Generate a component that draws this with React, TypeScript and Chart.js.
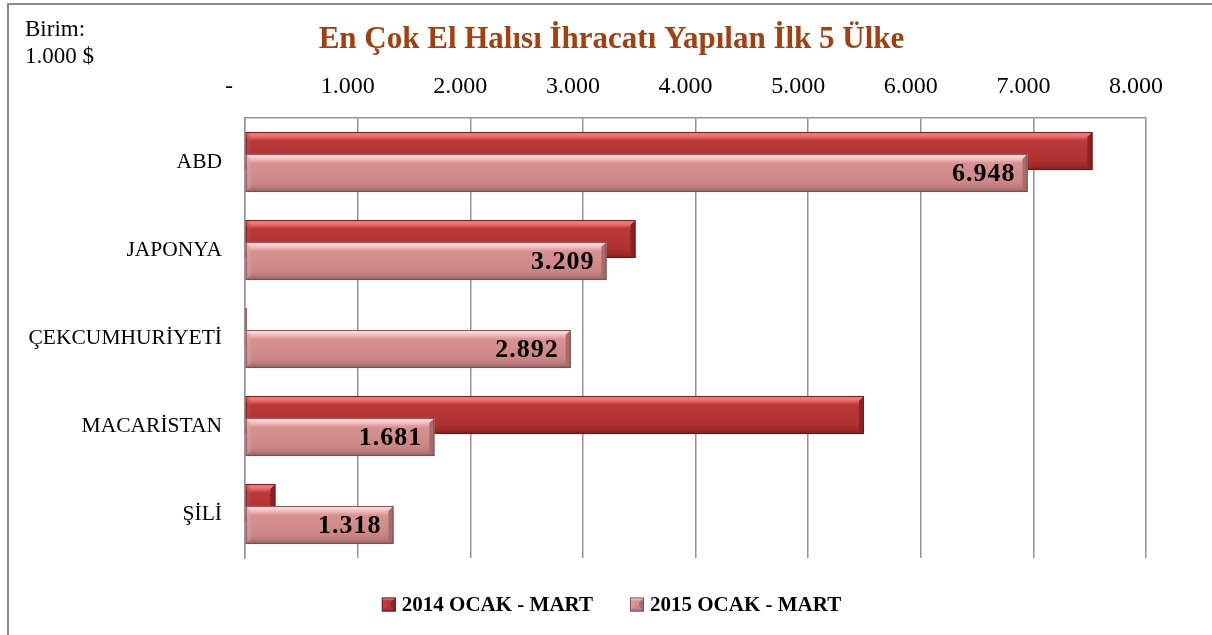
import React, { useEffect, useRef } from 'react';
import { Chart, registerables } from 'chart.js';

Chart.register(...registerables);

// ---- data ----
const categories = ['ABD', 'JAPONYA', 'ÇEKCUMHURİYETİ', 'MACARİSTAN', 'ŞİLİ'];
const seriesLabels = ['2014 OCAK - MART', '2015 OCAK - MART'];
const values2014 = [7524, 3466, 9, 5496, 269];
const values2015 = [6948, 3209, 2892, 1681, 1318];
const axisMin = 0;
const axisMax = 8000;
const axisStep = 1000;
const titleText = 'En Çok El Halısı İhracatı Yapılan İlk 5 Ülke';
const unitLines = ['Birim:', '1.000 $'];

const SERIF = '"Liberation Serif", "Times New Roman", serif';

function fmt(v: number): string {
  const s = Math.round(v).toString();
  return s.replace(/\B(?=(\d{3})+(?!\d))/g, '.');
}

type Palette = {
  base: string;
  stops: [number, string][];
  bevelRight: string;
  bevelLeft: string;
  edge: string;
};

const palettes: Palette[] = [
  {
    base: '#B23434',
    stops: [
      [0, '#C84545'],
      [0.05, '#F47E7E'],
      [0.13, '#E96767'],
      [0.22, '#BA3A3A'],
      [0.75, '#B03131'],
      [0.92, '#9A2828'],
      [1, '#6E1A1A'],
    ],
    bevelRight: '#8A2222',
    bevelLeft: '#C44A4A',
    edge: 'rgba(110,25,25,0.85)',
  },
  {
    base: '#D08A8A',
    stops: [
      [0, '#E5A5A5'],
      [0.05, '#FFDADA'],
      [0.14, '#F3B8B8'],
      [0.25, '#D89292'],
      [0.75, '#CD8686'],
      [0.92, '#B57474'],
      [1, '#7C5353'],
    ],
    bevelRight: '#A66C6C',
    bevelLeft: '#E2A2A2',
    edge: 'rgba(120,80,80,0.9)',
  },
];

function drawBar(ctx: CanvasRenderingContext2D, left: number, right: number, top: number, bottom: number, pal: Palette) {
  const w = right - left;
  const h = bottom - top;
  if (w <= 0 || h <= 0) return;
  const g = ctx.createLinearGradient(0, top, 0, bottom);
  pal.stops.forEach(([o, c]) => g.addColorStop(o, c));
  ctx.fillStyle = g;
  ctx.fillRect(left, top, w, h);
  const b = Math.min(5, w / 2);
  // right bevel
  ctx.fillStyle = pal.bevelRight;
  ctx.beginPath();
  ctx.moveTo(right - b, top + b);
  ctx.lineTo(right, top);
  ctx.lineTo(right, bottom);
  ctx.lineTo(right - b, bottom - b);
  ctx.closePath();
  ctx.fill();
  // left bevel
  ctx.fillStyle = pal.bevelLeft;
  ctx.globalAlpha = 0.5;
  ctx.beginPath();
  ctx.moveTo(left, top);
  ctx.lineTo(left + b, top + b);
  ctx.lineTo(left + b, bottom - b);
  ctx.lineTo(left, bottom);
  ctx.closePath();
  ctx.fill();
  ctx.globalAlpha = 1;
  // outline
  ctx.strokeStyle = pal.edge;
  ctx.lineWidth = 1;
  ctx.strokeRect(left + 0.5, top + 0.5, Math.max(w - 1, 0.5), h - 1);
}

const decorPlugin = {
  id: 'decor',
  beforeDraw(chart: any) {
    const { ctx, width, height } = chart;
    ctx.save();
    ctx.fillStyle = '#ffffff';
    ctx.fillRect(0, 0, width, height);
    ctx.strokeStyle = '#8c8c8c';
    ctx.lineWidth = 2;
    ctx.strokeRect(8, 4, width + 20, height + 20);
    ctx.restore();
  },
  afterDatasetsDraw(chart: any) {
    const { ctx } = chart;
    ctx.save();
    for (let d = 0; d < chart.data.datasets.length; d++) {
      const meta = chart.getDatasetMeta(d);
      meta.data.forEach((el: any) => {
        const p = el.getProps(['x', 'y', 'base', 'height'], true);
        const left = Math.min(p.base, p.x);
        const right = Math.max(p.base, p.x);
        const top = p.y - p.height / 2;
        const bottom = p.y + p.height / 2;
        if (right - left < 2) {
          ctx.fillStyle = palettes[d].bevelRight;
          ctx.fillRect(left, top, Math.max(right - left, 1), bottom - top);
        } else {
          drawBar(ctx, left, right, top, bottom, palettes[d]);
        }
      });
    }
    // data labels for 2015 series
    const meta2 = chart.getDatasetMeta(1);
    ctx.font = `bold 26px ${SERIF}`;
    (ctx as any).letterSpacing = '1px';
    ctx.fillStyle = '#000000';
    ctx.textAlign = 'right';
    ctx.textBaseline = 'middle';
    meta2.data.forEach((el: any, i: number) => {
      const p = el.getProps(['x', 'y'], true);
      ctx.fillText(fmt(values2015[i]), p.x - 12, p.y + 1);
    });
    (ctx as any).letterSpacing = '0px';
    ctx.restore();
  },
  afterDraw(chart: any) {
    const { ctx } = chart;
    ctx.save();
    // title
    ctx.font = `bold 31px ${SERIF}`;
    ctx.fillStyle = '#A3400F';
    ctx.textAlign = 'center';
    ctx.textBaseline = 'middle';
    ctx.fillText(titleText, 611.5, 40);
    // unit text
    ctx.font = `23px ${SERIF}`;
    ctx.fillStyle = '#000000';
    ctx.textAlign = 'left';
    ctx.textBaseline = 'alphabetic';
    ctx.fillText(unitLines[0], 25, 36);
    ctx.fillText(unitLines[1], 25, 63);
    // legend
    ctx.font = `bold 21px ${SERIF}`;
    const box = 14;
    const gap = 6;
    const itemGap = 37;
    const widths = seriesLabels.map((l) => ctx.measureText(l).width);
    const total = widths.reduce((a, w) => a + box + gap + w, 0) + itemGap * (seriesLabels.length - 1);
    let x = 611.5 - total / 2;
    const cy = 604.5;
    ctx.textBaseline = 'middle';
    seriesLabels.forEach((l, i) => {
      drawBar(ctx, x, x + box, cy - box / 2, cy + box / 2, palettes[i]);
      ctx.fillStyle = '#000000';
      ctx.fillText(l, x + box + gap, cy + 1);
      x += box + gap + widths[i] + itemGap;
    });
    ctx.restore();
  },
};

export default function App() {
  const canvasRef = useRef<HTMLCanvasElement | null>(null);

  useEffect(() => {
    if (!canvasRef.current) return;
    const gridColor = '#939393';
    const chart = new Chart(canvasRef.current, {
      type: 'bar',
      data: {
        labels: categories,
        datasets: [
          {
            label: seriesLabels[0],
            data: values2014,
            backgroundColor: palettes[0].base,
            borderWidth: 0,
            categoryPercentage: 0.5,
            barPercentage: 1.73,
          },
          {
            label: seriesLabels[1],
            data: values2015,
            backgroundColor: palettes[1].base,
            borderWidth: 0,
            categoryPercentage: 0.5,
            barPercentage: 1.73,
          },
        ],
      },
      options: {
        indexAxis: 'y',
        responsive: false,
        animation: false,
        layout: { padding: { left: 10, right: 66, top: 0, bottom: 77 } },
        scales: {
          x: {
            position: 'top',
            min: axisMin,
            max: axisMax,
            ticks: {
              stepSize: axisStep,
              autoSkip: false,
              maxRotation: 0,
              callback: (v: any) => (Number(v) === 0 ? '-  ' : fmt(Number(v))),
              font: { family: SERIF, size: 24 },
              color: '#000000',
              padding: 17,
              labelOffset: -10,
            },
            grid: { color: gridColor, lineWidth: 1.5, drawTicks: false },
            border: { display: true, color: gridColor, width: 1.5 },
            afterFit: (s: any) => {
              s.height = 118;
            },
          },
          y: {
            ticks: {
              font: { family: SERIF, size: 21.5 },
              color: '#000000',
              padding: 23,
            },
            grid: { display: false, drawTicks: false },
            border: { display: true, color: gridColor, width: 1.5 },
            afterFit: (s: any) => {
              s.width = 235;
            },
          },
        },
        plugins: {
          legend: { display: false },
          tooltip: { enabled: false },
          title: { display: false },
        },
      },
      plugins: [decorPlugin],
    } as any);
    return () => chart.destroy();
  }, []);

  return (
    <div style={{ position: 'absolute', left: 0, top: 0, width: 1212, height: 635 }}>
      <canvas ref={canvasRef} width={1212} height={635} />
    </div>
  );
}
